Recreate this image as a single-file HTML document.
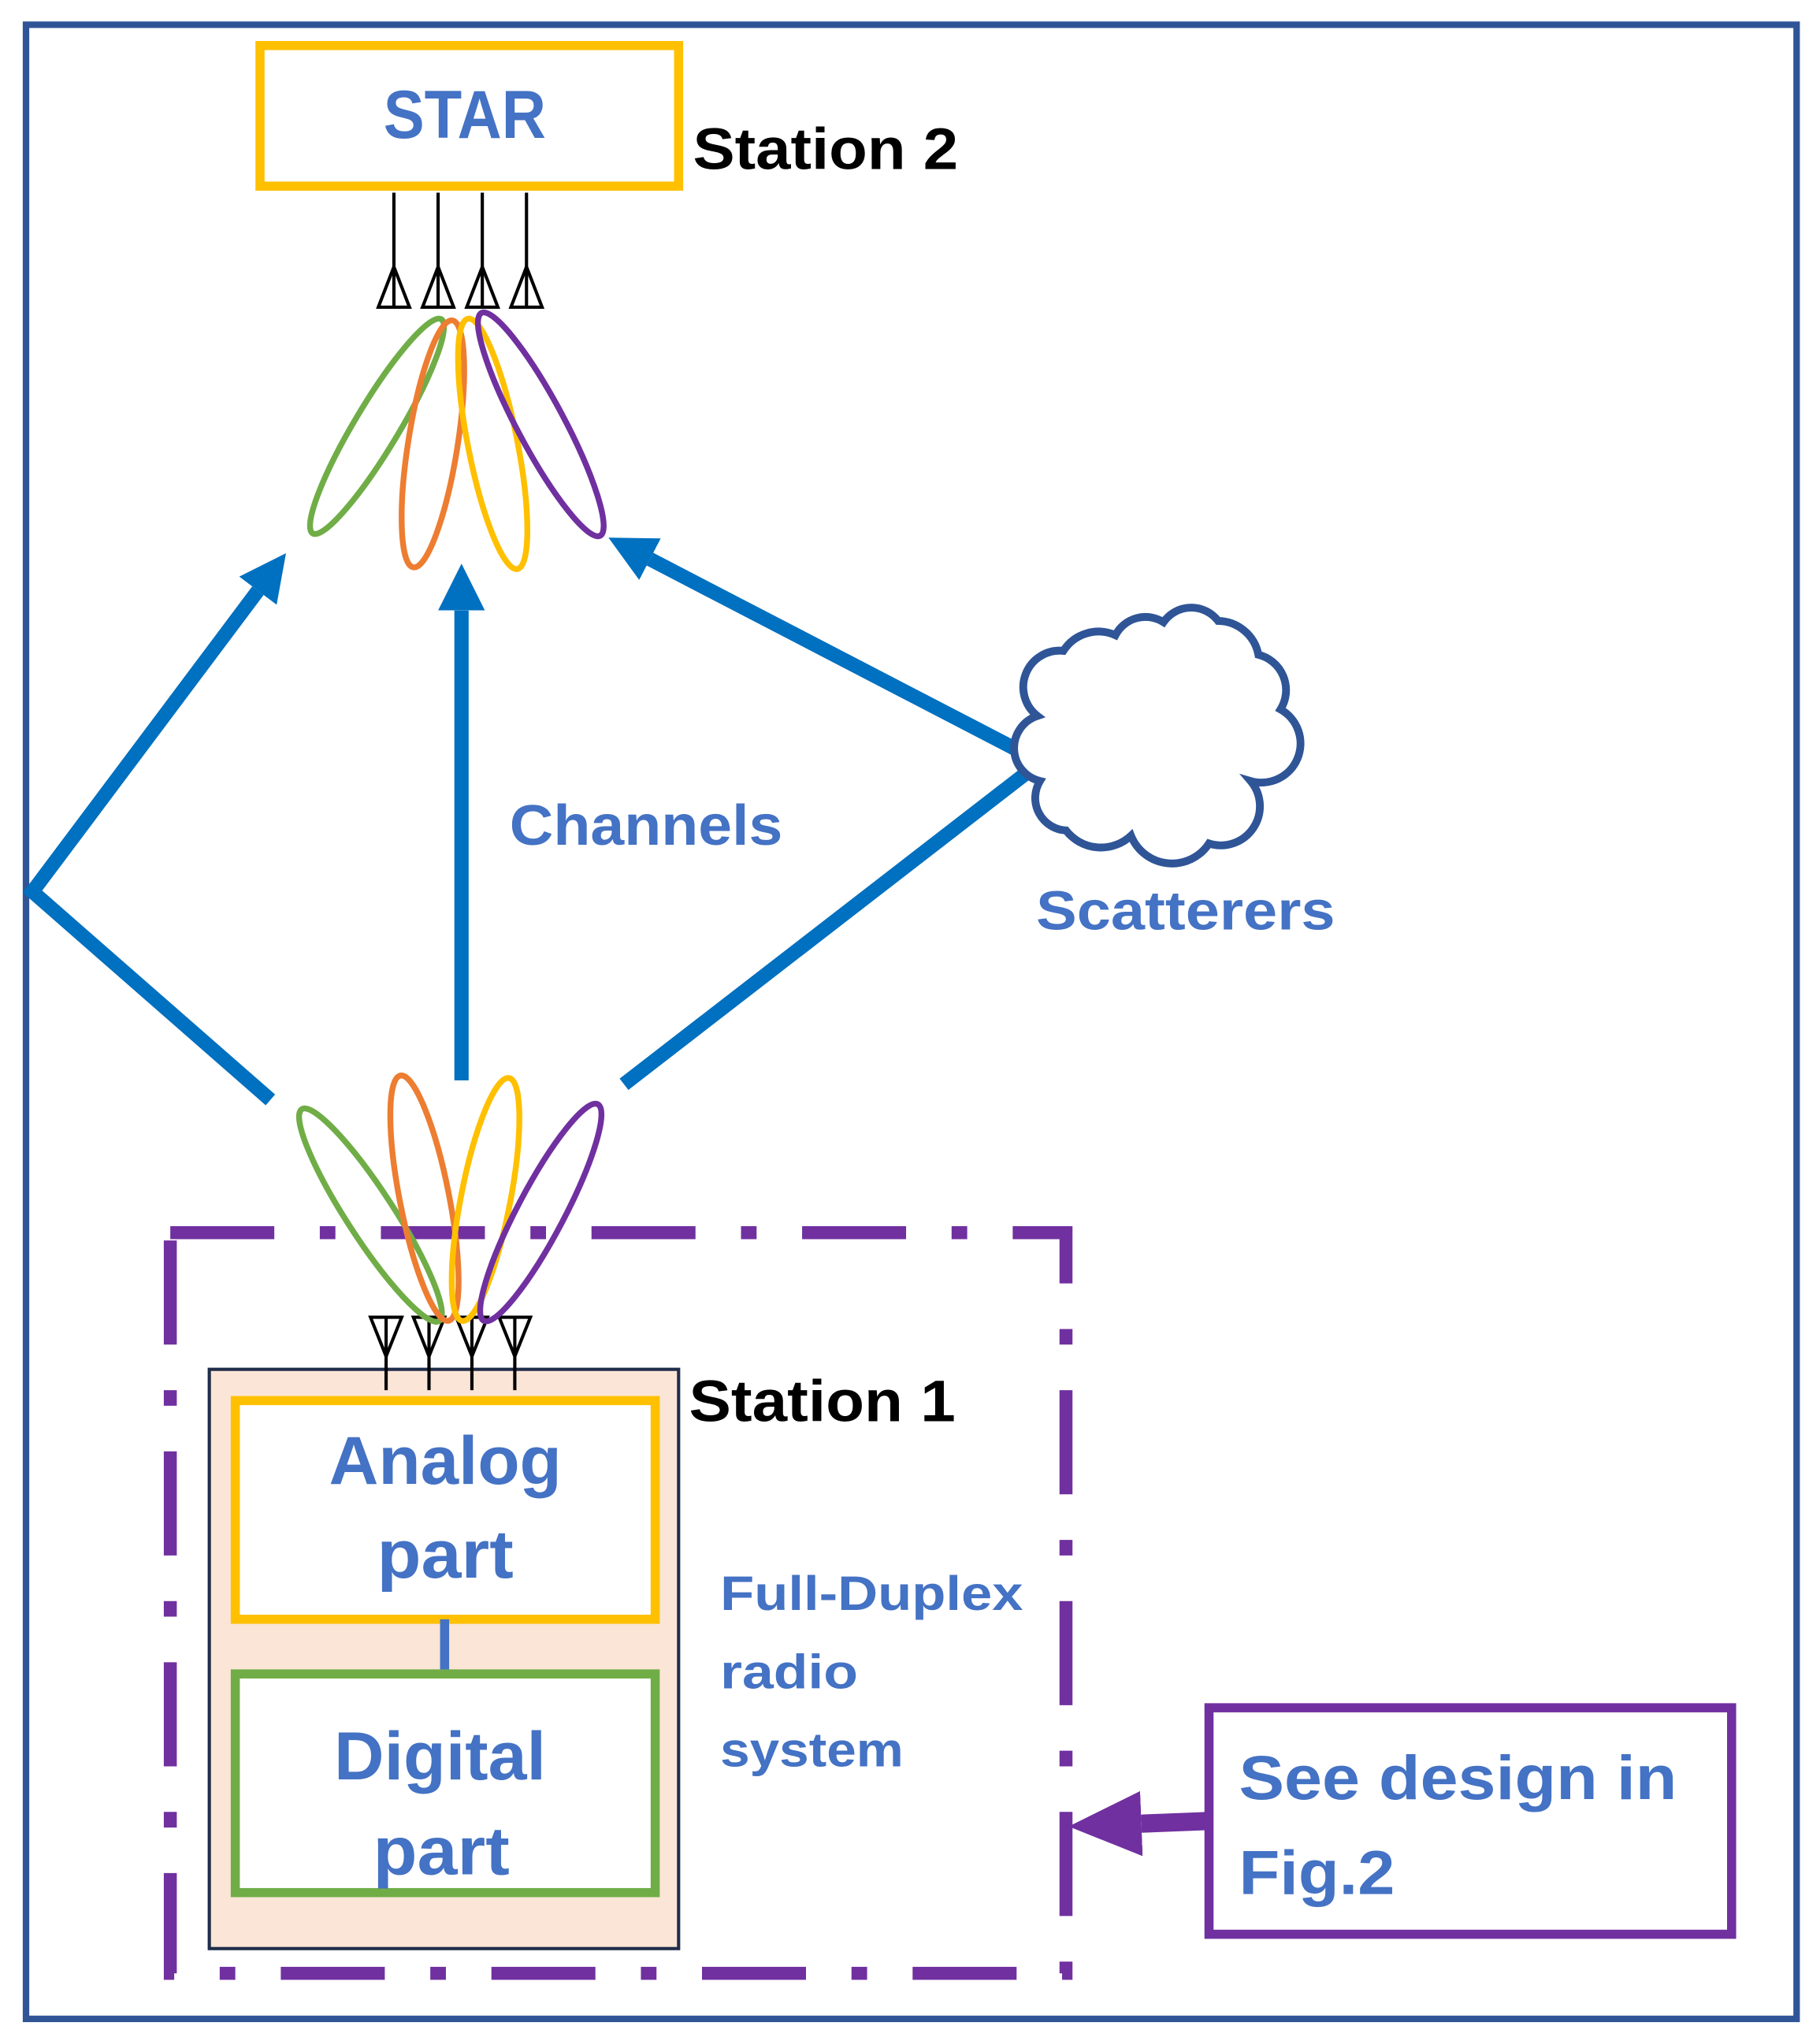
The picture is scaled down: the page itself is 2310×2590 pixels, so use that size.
<!DOCTYPE html>
<html><head><meta charset="utf-8"><style>
html,body{margin:0;padding:0;background:#fff;}
svg{display:block;}
text{font-family:"Liberation Sans",sans-serif;font-weight:bold;}
</style></head><body>
<svg width="2310" height="2590" viewBox="0 0 1400 1568" preserveAspectRatio="none" xmlns="http://www.w3.org/2000/svg">
<defs>
<marker id="ah" markerUnits="userSpaceOnUse" markerWidth="36" markerHeight="36" viewBox="0 0 36 36" refX="0" refY="18" orient="auto"><path d="M0,0 L36,18 L0,36 z" fill="#0070c0"/></marker>
<marker id="ap" markerUnits="userSpaceOnUse" markerWidth="56" markerHeight="50" viewBox="0 0 56 50" refX="0" refY="25" orient="auto"><path d="M0,0 L56,25 L0,50 z" fill="#7030a0"/></marker>
</defs>
<rect x="0" y="0" width="1400" height="1568" fill="#fff"/>
<rect x="20" y="19" width="1362" height="1532" fill="none" stroke="#2f5597" stroke-width="5"/>

<!-- STAR -->
<rect x="200" y="35" width="322" height="108" fill="#fff" stroke="#ffc000" stroke-width="7"/>
<text x="295" y="106" font-size="52" fill="#4472c4" textLength="125" lengthAdjust="spacingAndGlyphs">STAR</text>
<text x="533" y="130" font-size="45" fill="#000" textLength="204" lengthAdjust="spacingAndGlyphs">Station 2</text>

<!-- top antennas -->
<g stroke="#000" stroke-width="2.5" fill="none">
<line x1="303" y1="148" x2="303" y2="236"/><path d="M303,205 L291,236 L315,236 Z"/>
<line x1="337" y1="148" x2="337" y2="236"/><path d="M337,205 L325,236 L349,236 Z"/>
<line x1="371" y1="148" x2="371" y2="236"/><path d="M371,205 L359,236 L383,236 Z"/>
<line x1="405" y1="148" x2="405" y2="236"/><path d="M405,205 L393,236 L417,236 Z"/>
</g>

<!-- top lobes -->
<g fill="none" stroke-width="4.5">
<ellipse cx="290" cy="327.5" rx="96" ry="17" transform="rotate(121 290 327.5)" stroke="#70ad47"/>
<ellipse cx="333" cy="341" rx="96" ry="19" transform="rotate(99 333 341)" stroke="#ed7d31"/>
<ellipse cx="379" cy="341" rx="98" ry="19" transform="rotate(78.8 379 341)" stroke="#ffc000"/>
<ellipse cx="416" cy="326" rx="97" ry="18" transform="rotate(61.9 416 326)" stroke="#7030a0"/>
</g>

<!-- blue channels -->
<g stroke="#0070c0" stroke-width="11" fill="none">
<polyline points="208,845 25,685 198.4,453.8" marker-end="url(#ah)"/>
<line x1="355" y1="830" x2="355" y2="469" marker-end="url(#ah)"/>
<line x1="790" y1="580" x2="500" y2="429.6" marker-end="url(#ah)"/>
<line x1="792" y1="592" x2="480" y2="833"/>
</g>

<!-- cloud -->
<path d="M798,550 A28,28 0 0 1 818,500 A32,32 0 0 1 858,488 A26,26 0 0 1 895,478 A26,26 0 0 1 937,477 A32,32 0 0 1 968,503 A28,28 0 0 1 985,545 A30,30 0 0 1 962,600 A30,30 0 0 1 930,648 A34,34 0 0 1 870,642 A34,34 0 0 1 820,638 A25,25 0 0 1 800,600 A26,26 0 0 1 798,550 Z" fill="#fff" stroke="#2f5597" stroke-width="6"/>
<text x="392" y="649" font-size="44" fill="#4472c4" textLength="210" lengthAdjust="spacingAndGlyphs">Channels</text>
<text x="797" y="714" font-size="42" fill="#4472c4" textLength="230" lengthAdjust="spacingAndGlyphs">Scatterers</text>

<!-- dashed FD box -->
<rect x="131" y="947" width="689" height="569" fill="none" stroke="#7030a0" stroke-width="10" stroke-dasharray="80 35 12 35"/>

<!-- station 1 -->
<rect x="161" y="1052" width="361" height="445" fill="#fbe5d6" stroke="#1f2d4a" stroke-width="2.5"/>
<g stroke="#000" stroke-width="2.5" fill="none">
<line x1="297" y1="1012" x2="297" y2="1068"/><path d="M285,1012 L309,1012 L297,1042 Z"/>
<line x1="330" y1="1012" x2="330" y2="1068"/><path d="M318,1012 L342,1012 L330,1042 Z"/>
<line x1="363" y1="1012" x2="363" y2="1068"/><path d="M351,1012 L375,1012 L363,1042 Z"/>
<line x1="396" y1="1012" x2="396" y2="1068"/><path d="M384,1012 L408,1012 L396,1042 Z"/>
</g>
<rect x="181" y="1076" width="323" height="168" fill="#fff" stroke="#ffc000" stroke-width="7"/>
<line x1="342" y1="1244" x2="342" y2="1286" stroke="#4472c4" stroke-width="7"/>
<rect x="181" y="1286" width="323" height="168" fill="#fff" stroke="#70ad47" stroke-width="7"/>
<text x="253" y="1140" font-size="52" fill="#4472c4" textLength="179" lengthAdjust="spacingAndGlyphs">Analog</text>
<text x="290" y="1212" font-size="52" fill="#4472c4" textLength="105" lengthAdjust="spacingAndGlyphs">part</text>
<text x="257" y="1367" font-size="52" fill="#4472c4" textLength="163" lengthAdjust="spacingAndGlyphs">Digital</text>
<text x="287" y="1440" font-size="52" fill="#4472c4" textLength="105" lengthAdjust="spacingAndGlyphs">part</text>
<text x="530" y="1092" font-size="45" fill="#000" textLength="205" lengthAdjust="spacingAndGlyphs">Station 1</text>
<text x="554" y="1237" font-size="37" fill="#4472c4" textLength="233" lengthAdjust="spacingAndGlyphs">Full-Duplex</text>
<text x="554" y="1297" font-size="37" fill="#4472c4" textLength="106" lengthAdjust="spacingAndGlyphs">radio</text>
<text x="554" y="1357" font-size="37" fill="#4472c4" textLength="141" lengthAdjust="spacingAndGlyphs">system</text>

<!-- bottom lobes -->
<g fill="none" stroke-width="4.5">
<ellipse cx="285" cy="933.5" rx="97" ry="18" transform="rotate(57 285 933.5)" stroke="#70ad47"/>
<ellipse cx="326.5" cy="920.5" rx="96" ry="19" transform="rotate(78.9 326.5 920.5)" stroke="#ed7d31"/>
<ellipse cx="373.5" cy="921.5" rx="95" ry="19" transform="rotate(101 373.5 921.5)" stroke="#ffc000"/>
<ellipse cx="416" cy="931.5" rx="94" ry="18" transform="rotate(117.8 416 931.5)" stroke="#7030a0"/>
</g>

<!-- see design -->
<rect x="930" y="1312" width="402" height="174" fill="#fff" stroke="#7030a0" stroke-width="7"/>
<text x="953" y="1382" font-size="48" fill="#4472c4" textLength="337" lengthAdjust="spacingAndGlyphs">See design in</text>
<text x="953" y="1455" font-size="48" fill="#4472c4" textLength="120" lengthAdjust="spacingAndGlyphs">Fig.2</text>
<line x1="929" y1="1399" x2="878" y2="1401" stroke="#7030a0" stroke-width="14" marker-end="url(#ap)"/>
</svg>
</body></html>
